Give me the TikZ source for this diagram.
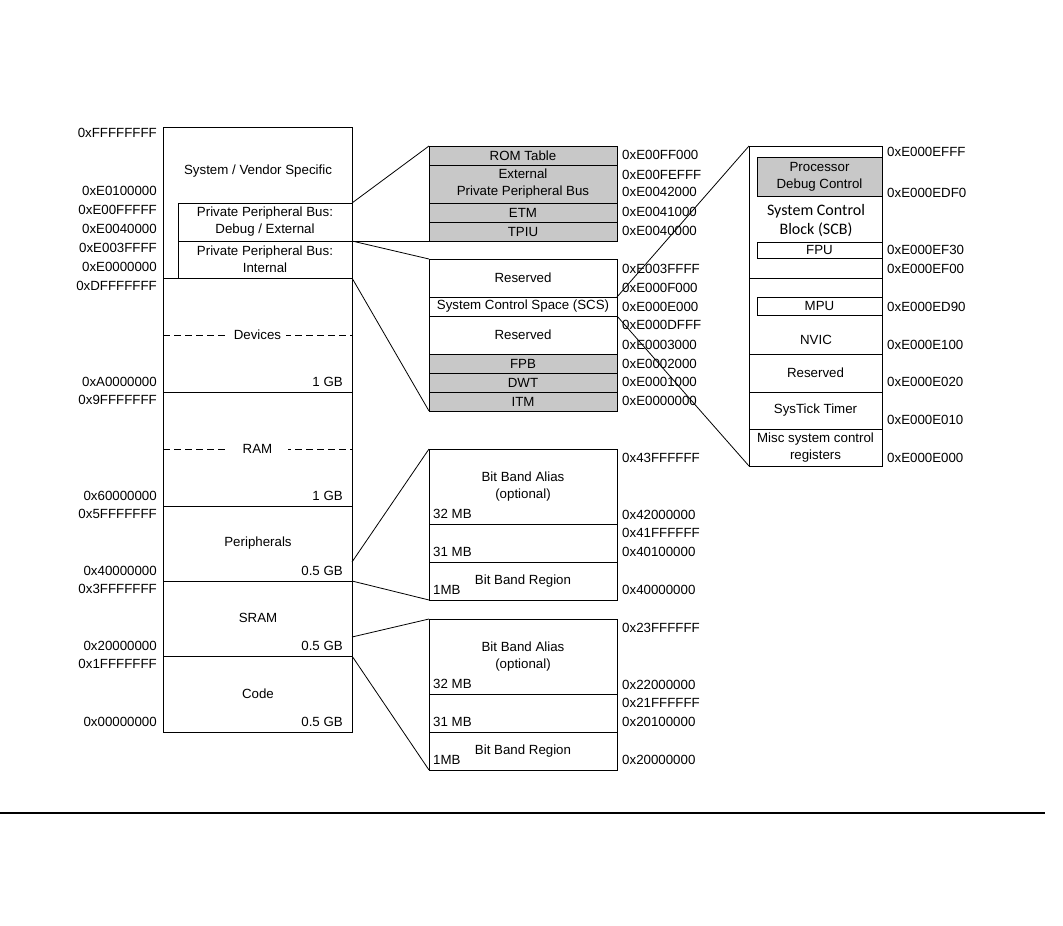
\documentclass[tikz,border=0pt]{standalone}
\usepackage{fontspec}
\setmainfont{Liberation Sans}
\newfontfamily\scbfont{Carlito}
\definecolor{cellgray}{RGB}{200,200,200}
\begin{document}
\begin{tikzpicture}[x=1pt,y=-1pt,
  every node/.style={font=\fontsize{13.3}{17}\selectfont},
  cell/.style={draw, line width=0.8pt, anchor=north west, inner sep=0pt, outer sep=0pt, align=center},
  lcell/.style={cell, minimum width=189pt},
  ppbcell/.style={cell, minimum width=174pt},
  mcell/.style={cell, minimum width=188pt},
  rcell/.style={cell, minimum width=133pt},
  icell/.style={cell, minimum width=125pt},
  shaded/.style={fill=cellgray},
  laddr/.style={anchor=east, inner sep=0pt},
  raddr/.style={anchor=west, inner sep=0pt},
  size/.style={anchor=east, inner sep=0pt},
  msize/.style={anchor=west, inner sep=0pt},
  conn/.style={line width=0.8pt},
  sep/.style={line width=0.8pt, dash pattern=on 7pt off 4pt},
]
\useasboundingbox (0,0) rectangle (1063,926);

% ---------- left column ----------
\node[lcell, minimum height=151pt] (sys) at (163,127) {};
\node (systxt) at (258,171) {System / Vendor Specific};
\node[ppbcell, minimum height=38pt] (ppbd) at (178,203) {Private Peripheral Bus:\\Debug / External};
\node[ppbcell, minimum height=37pt] (ppbi) at (178,241) {Private Peripheral Bus:\\Internal};
\node[lcell, minimum height=114pt] (dev) at (163,278) {};
\node[lcell, minimum height=114pt] (ram) at (163,392) {};
\node[lcell, minimum height=75pt] (per) at (163,506) {};
\node[lcell, minimum height=75pt] (sram) at (163,581) {};
\node[lcell, minimum height=76pt] (code) at (163,656) {};

\draw[sep] (dev.west) -- (dev.east);
\node[fill=white, inner xsep=5pt, inner ysep=1pt] (devtxt) at (dev.center) {Devices};
\draw[sep] (ram.west) -- (ram.east);
\node[fill=white, inner xsep=16pt, inner ysep=1pt] (ramtxt) at (ram.center) {RAM};
\node (pertxt) at (258,543) {Peripherals};
\node (sramtxt) at (258,618) {SRAM};
\node (codetxt) at (258,694) {Code};

\node[size] (s1) at (343,382) {1 GB};
\node[size] (s2) at (343,496) {1 GB};
\node[size] (s3) at (343,571) {0.5 GB};
\node[size] (s4) at (343,646) {0.5 GB};
\node[size] (s5) at (343,722) {0.5 GB};

\node[laddr] (a1) at (157,133) {0xFFFFFFFF};
\node[laddr] (a2) at (157,191) {0xE0100000};
\node[laddr] (a3) at (157,210) {0xE00FFFFF};
\node[laddr] (a4) at (157,229) {0xE0040000};
\node[laddr] (a5) at (157,248) {0xE003FFFF};
\node[laddr] (a6) at (157,267) {0xE0000000};
\node[laddr] (a7) at (157,286) {0xDFFFFFFF};
\node[laddr] (a8) at (157,382) {0xA0000000};
\node[laddr] (a9) at (157,400) {0x9FFFFFFF};
\node[laddr] (a10) at (157,496) {0x60000000};
\node[laddr] (a11) at (157,514) {0x5FFFFFFF};
\node[laddr] (a12) at (157,571) {0x40000000};
\node[laddr] (a13) at (157,589) {0x3FFFFFFF};
\node[laddr] (a14) at (157,646) {0x20000000};
\node[laddr] (a15) at (157,664) {0x1FFFFFFF};
\node[laddr] (a16) at (157,722) {0x00000000};

% ---------- middle: debug / external ----------
\node[mcell, shaded, minimum height=19pt] (rom) at (429,146) {ROM Table};
\node[mcell, shaded, minimum height=38pt] (extppb) at (429,165) {External\\Private Peripheral Bus};
\node[mcell, shaded, minimum height=19pt] (etm) at (429,203) {ETM};
\node[mcell, shaded, minimum height=19pt] (tpiu) at (429,222) {TPIU};

\node[raddr] (b1) at (622,155) {0xE00FF000};
\node[raddr] (b2) at (622,175) {0xE00FEFFF};
\node[raddr] (b3) at (622,192) {0xE0042000};
\node[raddr] (b4) at (622,212) {0xE0041000};
\node[raddr] (b5) at (622,231) {0xE0040000};

% ---------- middle: internal ----------
\node[mcell, minimum height=38pt] (res1) at (429,259) {Reserved};
\node[mcell, minimum height=19pt] (scs) at (429,297) {System Control Space (SCS)};
\node[mcell, minimum height=38pt] (res2) at (429,316) {Reserved};
\node[mcell, shaded, minimum height=19pt] (fpb) at (429,354) {FPB};
\node[mcell, shaded, minimum height=19pt] (dwt) at (429,373) {DWT};
\node[mcell, shaded, minimum height=19pt] (itm) at (429,392) {ITM};

\node[raddr] (c1) at (622,269) {0xE003FFFF};
\node[raddr] (c2) at (622,288) {0xE000F000};
\node[raddr] (c3) at (622,307) {0xE000E000};
\node[raddr] (c4) at (622,325) {0xE000DFFF};
\node[raddr] (c5) at (622,345) {0xE0003000};
\node[raddr] (c6) at (622,364) {0xE0002000};
\node[raddr] (c7) at (622,382) {0xE0001000};
\node[raddr] (c8) at (622,401) {0xE0000000};

% ---------- middle: peripheral bit band ----------
\node[mcell, minimum height=75pt] (bba1) at (429,449) {Bit Band Alias\\(optional)};
\node[mcell, minimum height=38pt] (mid1) at (429,524) {};
\node[mcell, minimum height=38pt] (bbr1) at (429,562) {Bit Band Region};
\node[msize] (m1) at (433,514) {32 MB};
\node[msize] (m2) at (433,552) {31 MB};
\node[msize] (m3) at (433,590) {1MB};

\node[raddr] (d1) at (622,458) {0x43FFFFFF};
\node[raddr] (d2) at (622,515) {0x42000000};
\node[raddr] (d3) at (622,533) {0x41FFFFFF};
\node[raddr] (d4) at (622,552) {0x40100000};
\node[raddr] (d5) at (622,590) {0x40000000};

% ---------- middle: SRAM bit band ----------
\node[mcell, minimum height=75pt] (bba2) at (429,619) {Bit Band Alias\\(optional)};
\node[mcell, minimum height=38pt] (mid2) at (429,694) {};
\node[mcell, minimum height=38pt] (bbr2) at (429,732) {Bit Band Region};
\node[msize] (m4) at (433,684) {32 MB};
\node[msize] (m5) at (433,722) {31 MB};
\node[msize] (m6) at (433,760) {1MB};

\node[raddr] (e1) at (622,628) {0x23FFFFFF};
\node[raddr] (e2) at (622,685) {0x22000000};
\node[raddr] (e3) at (622,703) {0x21FFFFFF};
\node[raddr] (e4) at (622,722) {0x20100000};
\node[raddr] (e5) at (622,760) {0x20000000};

% ---------- right: SCS detail ----------
\node[rcell, minimum height=132pt] (scb) at (749,146) {};
\node[icell, shaded, minimum height=39pt] (pdc) at (757,157) {Processor\\Debug Control};
\node[align=center, font=\scbfont\fontsize{16}{19}\selectfont] (scbtxt) at (816,221) {System Control\\Block (SCB)};
\node[icell, minimum height=16pt] (fpu) at (757,242) {FPU};
\node[rcell, minimum height=76pt] (nvic) at (749,278) {};
\node[icell, minimum height=18pt] (mpu) at (757,297) {MPU};
\node (nvictxt) at (816,340) {NVIC};
\node[rcell, minimum height=38pt] (resv) at (749,354) {Reserved};
\node[rcell, minimum height=37pt] (systick) at (749,392) {SysTick Timer};
\node[rcell, minimum height=37pt] (misc) at (749,429) {Misc system control\\registers};

\node[raddr] (f1) at (887,152) {0xE000EFFF};
\node[raddr] (f2) at (887,193) {0xE000EDF0};
\node[raddr] (f3) at (887,250) {0xE000EF30};
\node[raddr] (f4) at (887,269) {0xE000EF00};
\node[raddr] (f5) at (887,307) {0xE000ED90};
\node[raddr] (f6) at (887,345) {0xE000E100};
\node[raddr] (f7) at (887,382) {0xE000E020};
\node[raddr] (f8) at (887,420) {0xE000E010};
\node[raddr] (f9) at (887,458) {0xE000E000};

% ---------- connectors ----------
\draw[conn] (ppbd.north east) -- (rom.north west);
\draw[conn] (ppbd.south east) -- (tpiu.south west);
\draw[conn] (ppbi.north east) -- (res1.north west);
\draw[conn] (ppbi.south east) -- (itm.south west);
\draw[conn] (scs.north east) -- (scb.north west);
\draw[conn] (scs.south east) -- (misc.south west);
\draw[conn] ([yshift=19pt]per.south east) -- (bba1.north west);
\draw[conn] (per.south east) -- (bbr1.south west);
\draw[conn] ([yshift=19pt]sram.south east) -- (bba2.north west);
\draw[conn] (sram.south east) -- (bbr2.south west);

% ---------- bottom rule ----------
\coordinate (ruleL) at (0,813);
\coordinate (ruleR) at (1045,813);
\draw[line width=2pt] (ruleL) -- (ruleR);
\end{tikzpicture}
\end{document}
